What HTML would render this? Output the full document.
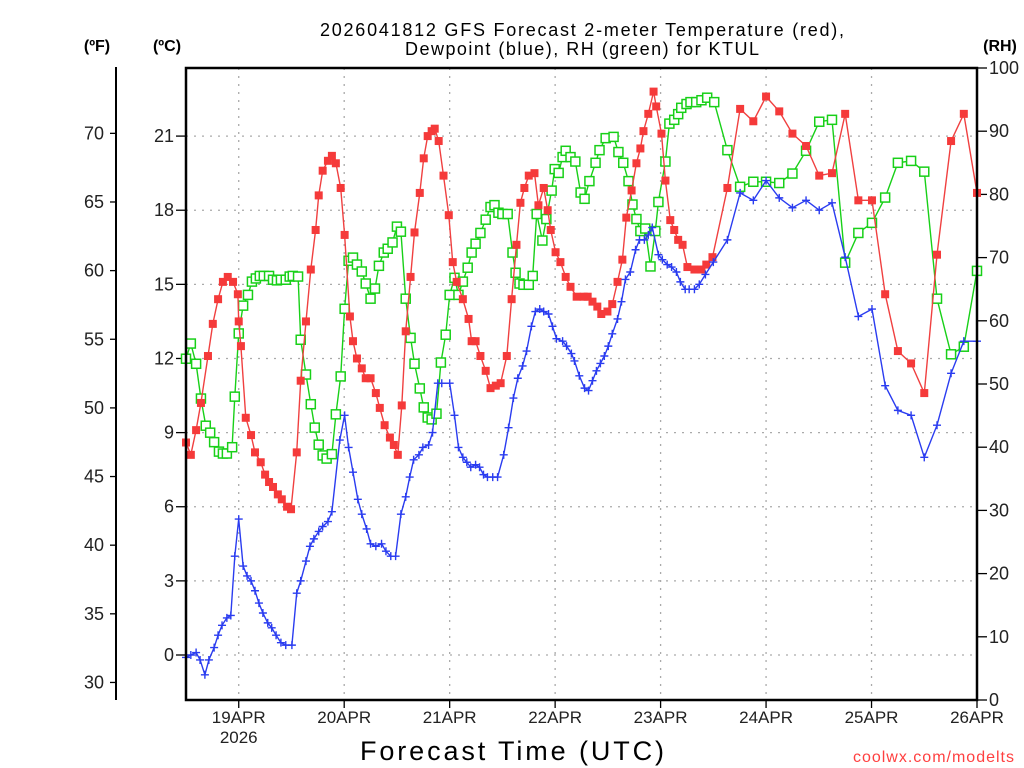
<!DOCTYPE html>
<html><head><meta charset="utf-8">
<style>
html,body{margin:0;padding:0;background:#fff;}
svg{display:block;font-family:"Liberation Sans","DejaVu Sans",sans-serif;}
</style></head>
<body>
<svg id="chart" width="1024" height="768" viewBox="0 0 1024 768" xmlns="http://www.w3.org/2000/svg">
<g font-size="18" text-anchor="middle" fill="#000">
<text x="582" y="36" textLength="524" lengthAdjust="spacing">2026041812 GFS Forecast 2-meter Temperature (red),</text>
<text x="582" y="55" textLength="354" lengthAdjust="spacing">Dewpoint (blue), RH (green) for KTUL</text>
</g>
<text x="97" y="51" font-size="16" font-weight="bold" text-anchor="middle">(ºF)</text>
<text x="167" y="51" font-size="16" font-weight="bold" text-anchor="middle">(ºC)</text>
<text x="1000" y="51" font-size="16" font-weight="bold" text-anchor="middle">(RH)</text>
<g id="grid"></g>
<g id="axes"></g>
<g id="series"></g>
<rect x="186" y="68" width="791" height="632" fill="none" stroke="#000" stroke-width="2.5"/>
<text x="512" y="760" font-size="27" text-anchor="middle" textLength="304" lengthAdjust="spacing">Forecast Time (UTC)</text>
<text x="1015" y="762" font-size="16" fill="#ff4040" text-anchor="end" letter-spacing="1">coolwx.com/modelts</text>
</svg>
<script>
const dayLabels = ["19APR","20APR","21APR","22APR","23APR","24APR","25APR","26APR"];
const dayHours = [12,36,60,84,108,132,156,180];
const celsiusTicks = [0,3,6,9,12,15,18,21];
const fahrenheitTicks = [30,35,40,45,50,55,60,65,70];
const rhTicks = [0,10,20,30,40,50,60,70,80,90,100];

const tempHours = [0,1.1,2.3,3.4,5,6.1,7.3,8.4,9.5,10.7,11.8,12,12.5,13.6,14.8,15.7,17,18,18.9,19.8,20.9,21.8,23,23.9,25.2,26.1,27.3,28.4,29.5,30.2,31.1,32.3,33.2,34.1,35.2,36.1,37.3,38,38.9,40,40.9,42,43.2,44.1,45.2,46.4,47.3,48.2,49.1,50,51.1,52,53.2,54.1,55,55.9,56.6,57.5,58.6,59.8,60.7,61.6,63,64.3,65,65.9,67,68.2,69.3,70.5,71.6,73,74.1,75.2,76.1,77,78,79.3,80.2,81.4,82.3,83,84.1,85.2,86.4,87.5,88.9,90.5,91.4,92.5,93.6,94.5,95.9,97,98.2,99.3,100.2,101.4,102.5,103.4,104.1,105.2,106.4,107,108.2,109.1,110.2,111.1,112,113,114.1,115.7,117.3,118.4,119.8,123.2,126.1,129.1,132,135,138,141.1,144.1,147,150,153,156.1,159.1,162,165,168,170.9,174.1,177,180];
const tempC = [8.6,8.1,9.1,10.2,12.1,13.4,14.4,15.1,15.3,15.1,14.6,13.5,12.5,9.6,8.9,8.2,7.8,7.3,7.0,6.8,6.5,6.3,6.0,5.9,8.2,11.1,13.5,15.6,17.2,18.6,19.6,20.0,20.2,19.9,18.9,17.0,13.7,12.7,12.0,11.6,11.2,11.2,10.6,10.0,9.3,8.8,8.5,8.1,10.1,13.1,15.3,17.1,18.7,20.1,21.0,21.2,21.3,20.8,19.4,17.8,15.9,15.1,14.4,13.6,12.7,12.7,12.1,11.5,10.8,10.9,11.0,12.1,14.4,16.6,18.3,18.9,19.4,19.5,18.2,18.9,18.0,17.2,16.3,15.9,15.3,14.9,14.5,14.5,14.5,14.3,14.1,13.8,13.9,14.2,15.1,16.0,17.7,18.8,19.9,20.5,21.2,21.9,22.8,22.2,21.1,19.2,17.6,17.2,16.8,16.6,15.7,15.6,15.6,15.8,16.1,18.9,22.1,21.6,22.6,22.0,21.1,20.6,19.4,19.5,21.9,18.4,18.4,14.6,12.3,11.8,10.6,16.2,20.8,21.9,18.7];

const dewHours = [0,1.1,2.3,3.2,4.3,5.2,6.4,7.3,8.2,9.3,10.2,11.1,12,13,13.9,14.8,15.7,16.6,17.5,18.6,19.5,20.5,21.6,22.7,24.1,25.2,26.1,27.3,28.2,29.1,30.2,31.1,32.3,33.2,35,36.1,37,38,39.1,40,41.1,42,43.2,44.5,45.5,46.6,47.7,48.9,50,50.9,51.8,53,53.9,55.2,56.1,57.3,58.2,60,61.1,62,63,63.9,64.8,65.9,66.8,67.7,68.6,69.8,70.9,72.3,73.4,74.5,75.5,76.6,77.5,78.6,79.5,80.5,81.4,82.5,83.4,84.3,85.7,86.6,87.7,88.4,89.5,90.7,91.6,92.5,93.4,94.3,95.2,96.1,97,98.2,99.1,100,101.1,102.3,103.2,104.3,105.2,106.1,107.5,108.4,109.5,110.5,111.6,112.5,113.6,114.5,115.7,116.8,118.2,120,123.2,126.1,129.1,132,135,138,141.1,144.1,147,150,153,156.1,159.1,162,165,168,170.9,174.1,177,180];
const dewC = [-0.1,0.0,0.1,-0.2,-0.8,-0.2,0.3,0.8,1.2,1.5,1.6,4.0,5.5,3.6,3.2,3.0,2.6,2.1,1.7,1.3,1.1,0.8,0.5,0.4,0.4,2.5,3.0,3.8,4.4,4.7,5.0,5.2,5.4,5.8,8.7,9.7,8.4,7.4,6.3,5.7,5.1,4.5,4.4,4.5,4.2,4.0,4.0,5.7,6.4,7.2,7.9,8.1,8.4,8.5,9.0,11.0,11.0,11.0,9.7,8.4,8.0,7.8,7.6,7.7,7.6,7.3,7.2,7.2,7.2,8.1,9.2,10.4,11.2,11.7,12.3,13.3,13.9,14.0,13.9,13.8,13.3,12.8,12.7,12.5,12.2,11.9,11.3,10.8,10.7,11.1,11.5,11.8,12.1,12.5,13.0,13.6,14.3,15.2,15.5,16.4,16.8,16.8,17.0,17.3,16.2,16.0,15.8,15.7,15.5,15.1,14.8,14.8,14.8,15.0,15.4,15.9,16.8,18.7,18.4,19.2,18.5,18.1,18.4,18.0,18.3,16.1,13.7,14.0,10.9,9.9,9.7,8.0,9.3,11.4,12.7,12.7];

const rhHours = [0,1.1,2.3,3.4,4.5,5.5,6.4,7.5,8.4,9.3,10.5,11.1,12,13,14.1,15,15.9,16.8,17.7,18.9,19.8,20.7,21.6,22.7,23.6,24.3,25.5,26.1,27.3,28.4,29.3,30.2,31.1,32,33.2,34.1,35.2,36.1,37,38,38.9,40,40.9,42,43,43.9,45,45.9,47,48,48.9,50,51.1,52,53.2,54.1,55,55.9,57,58,59.1,60,61.1,62,63,64.1,65,65.9,67,68.2,69.3,70.2,71.1,72,73.2,74.3,75,75.9,76.8,78,78.9,79.8,81.1,82,83.2,83.9,84.8,85.7,86.4,87.5,88.6,89.8,90.7,91.8,93.2,94.1,95.5,97.3,98.4,99.5,100.7,101.6,102.5,103.4,104.5,105.7,106.8,107.5,109.1,110,111.1,112,112.7,113.9,114.8,116.1,117.3,118.6,120.2,123.2,126.1,129.1,132,135,138,141.1,144.1,147,150,153,156.1,159.1,162,165,168,170.9,174.1,177,180];
const rhValues = [54,56.4,53.2,47.7,43.4,42.3,40.8,39.3,39.0,39.0,40.0,48.0,58,62.4,64.1,66.2,66.7,67.1,67.1,67.1,66.5,66.4,66.5,66.5,67,67.1,67,57,51.5,46.8,43.1,40.4,38.7,38.2,38.9,45.2,51.2,61.9,69.5,70,68.9,67.8,65.9,63.5,65.1,68.7,70.8,71.4,72.4,74.9,74.1,63.5,57.3,53.2,49.3,46.3,44.7,44.4,45.3,53.4,57.8,64.1,66.8,64.1,66.2,68.4,70.8,72.2,73.9,76,78,78.3,77.1,76.9,76.9,70.8,67.6,65.9,65.7,65.7,67.1,76.9,72.7,76.1,80.6,84,83.4,85.9,86.9,85.9,85.2,80.3,79.3,82.1,85,87,88.9,89.1,86.7,85,82.1,78.4,76.1,74.2,74.6,68.6,74.2,78.8,85.2,91.2,91.8,92.7,93.7,94.3,94.6,94.6,94.9,95.3,94.6,87,81.2,82,82,81.8,83.3,86.9,91.5,91.8,69.2,73.9,75.5,79.5,85,85.3,83.6,63.5,54.7,55.9,67.9];

const NS = "http://www.w3.org/2000/svg";
const X0 = 186, X1 = 977, Y0 = 68, Y1 = 700;
function xScale(h){ return X0 + (h/180)*(X1-X0); }
function yC(c){ return 655 - c*24.71; }
function yF(f){ return yC((f-32)*5/9); }
function yRH(r){ return Y1 - r*(Y1-Y0)/100; }
function mk(tag, attrs, parent){ const e=document.createElementNS(NS,tag); for(const k in attrs) e.setAttribute(k,attrs[k]); parent.appendChild(e); return e; }
const grid=document.getElementById('grid'), axes=document.getElementById('axes'), series=document.getElementById('series');

celsiusTicks.forEach(c=>{
  const y=yC(c);
  const g=mk('line',{x1:X0,x2:X1,y1:y,y2:y,stroke:'#aaa','stroke-width':1.3,'stroke-dasharray':'2,6'},grid);
  
  
  const t=mk('line',{x1:X0-10,x2:X0,y1:y,y2:y,stroke:'#000','stroke-width':1.3},axes);
  
  
  const l=mk('text',{x:X0-12,y:y+6,'font-size':18,'text-anchor':'end',fill:'#222'},axes);
  l.textContent=c;
  
  
});
const fl=mk('line',{x1:116,x2:116,y1:67,y2:700,stroke:'#000','stroke-width':2},axes);


fahrenheitTicks.forEach(f=>{
  const y=yF(f);
  const t=mk('line',{x1:110,x2:116,y1:y,y2:y,stroke:'#000','stroke-width':1.3},axes);
  
  
  const l=mk('text',{x:104,y:y+6,'font-size':18,'text-anchor':'end',fill:'#222'},axes);
  l.textContent=f;
  
  
});
rhTicks.forEach(r=>{
  const y=yRH(r);
  const t=mk('line',{x1:X1,x2:X1+10,y1:y,y2:y,stroke:'#000','stroke-width':1.3},axes);
  
  
  const l=mk('text',{x:989,y:y+6,'font-size':18,'text-anchor':'start',fill:'#222'},axes);
  l.textContent=r;
  
  
});
dayHours.forEach((h,i)=>{
  const x=xScale(h);
  if(i<dayHours.length-1){
    const g=mk('line',{x1:x,x2:x,y1:Y0,y2:Y1,stroke:'#aaa','stroke-width':1.3,'stroke-dasharray':'2,6'},grid);
    
    
  }
  const t=mk('line',{x1:x,x2:x,y1:Y1,y2:Y1+8,stroke:'#000','stroke-width':1.3},axes);
  
  
  const l=mk('text',{x:x,y:723,'font-size':17,'text-anchor':'middle',fill:'#222'},axes);
  l.textContent=dayLabels[i];
  
  
});
const yr=mk('text',{x:xScale(12),y:743,'font-size':17,'text-anchor':'middle',fill:'#222'},axes);
yr.textContent='2026';



function drawLine(hours, vals, yfn, color, name){
  const n=Math.min(hours.length, vals.length);
  let d='';
  for(let i=0;i<n;i++) d+=(i?'L':'M')+xScale(hours[i]).toFixed(1)+','+yfn(vals[i]).toFixed(1);
  const p=mk('path',{d:d,fill:'none',stroke:color,'stroke-width':1.4},series);
  
  
  return n;
}
let n=drawLine(rhHours,rhValues,yRH,'#18d018','rh');
for(let i=0;i<n;i++){
  const r=mk('rect',{x:xScale(rhHours[i])-4.5,y:yRH(rhValues[i])-4.5,width:9,height:9,fill:'#fff',stroke:'#18d018','stroke-width':1.5},series);
  
  
}
n=drawLine(tempHours,tempC,yC,'#f04040','temperature');
for(let i=0;i<n;i++){
  const r=mk('rect',{x:xScale(tempHours[i])-4,y:yC(tempC[i])-4,width:8,height:8,fill:'#f53a3a'},series);
  
  
}
n=drawLine(dewHours,dewC,yC,'#2a3cf0','dewpoint');
for(let i=0;i<n;i++){
  const x=xScale(dewHours[i]), y=yC(dewC[i]);
  const p=mk('path',{d:`M${x-4},${y}H${x+4}M${x},${y-4}V${y+4}`,stroke:'#2a3cf0','stroke-width':1.4,fill:'none'},series);
  
  
}
</script>
</body></html>
